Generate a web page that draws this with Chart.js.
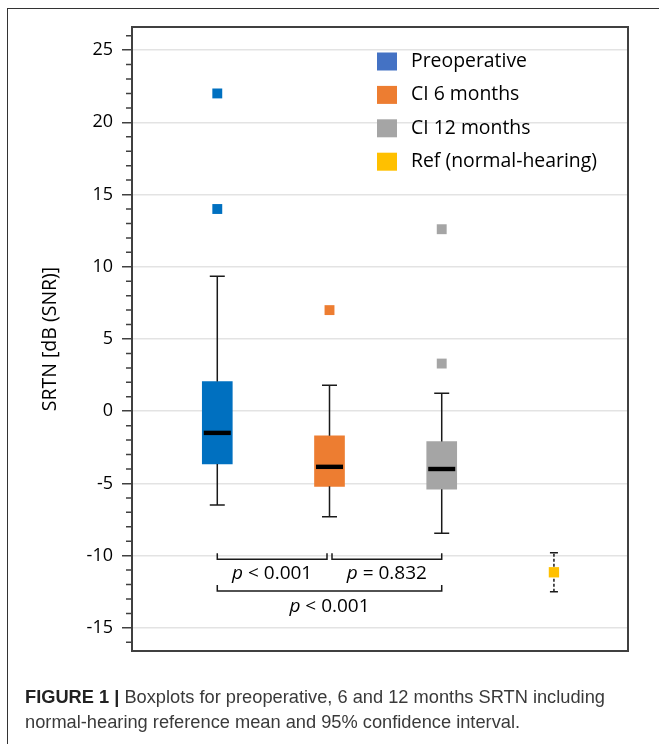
<!DOCTYPE html>
<html>
<head>
<meta charset="utf-8">
<script src="https://cdn.jsdelivr.net/npm/chart.js@4.4.1/dist/chart.umd.min.js"></script>
<style>
  html, body { margin: 0; padding: 0; background: #fff; }
  body { width: 659px; height: 744px; position: relative; overflow: hidden; }
  #frame { position: absolute; left: 7px; top: 8px; width: 700px; height: 800px;
           border-left: 1.5px solid #333; border-top: 1.5px solid #333; }
  #wrap { position: absolute; left: 0; top: 0; width: 659px; height: 744px; }
  #caption { position: absolute; left: 25px; top: 684px; width: 634px; white-space: nowrap;
             font-family: "Liberation Sans", Arial, sans-serif; font-size: 18.25px;
             line-height: 25px; color: #3a3a3a; }
  #caption b { color: #222; }
</style>
</head>
<body>
<div id="frame"></div>
<div id="wrap"><canvas id="boxChart"></canvas></div>
<div id="caption"><b>FIGURE 1 |</b> Boxplots for preoperative, 6 and 12 months SRTN including<br>normal-hearing reference mean and 95% confidence interval.</div>
<script>
// Chart data
const categories = ['Preoperative', 'CI 6 months', 'CI 12 months', 'Ref (normal-hearing)'];
const positions = [1, 2, 3, 4];
const whiskerLow = [-6.5, -7.3, -8.45];
const q1 = [-3.65, -5.2, -5.4];
const median = [-1.5, -3.85, -4.0];
const q3 = [2.05, -1.7, -2.1];
const whiskerHigh = [9.35, 1.8, 1.25];
const outliers = [[22, 14], [7.0], [12.6, 3.3]];
const refMean = [-11.15];
const refCI = [-12.5, -9.8];
const yTicks = [-15, -10, -5, 0, 5, 10, 15, 20, 25];
const pTests = [
  { from: 0, to: 1, op: '<', value: '0.001', level: 0 },
  { from: 1, to: 2, op: '=', value: '0.832', level: 0 },
  { from: 0, to: 2, op: '<', value: '0.001', level: 1 }
];

// Colours
const boxColors = ['#0070C0', '#ED7D31', '#A5A5A5', '#FFC000'];
const legendColors = ['#4472C4', '#ED7D31', '#A5A5A5', '#FFC000'];
const FONT = '"Open Sans", sans-serif';

// Whiskers, medians, ref CI, brackets, legend and frame
const boxExtras = {
  id: 'boxExtras',
  beforeDatasetsDraw(chart) {
    const { ctx, scales: { x, y } } = chart;
    ctx.save();
    ctx.strokeStyle = '#1a1a1a';
    ctx.lineWidth = 1.5;
    // reference 95% CI (dashed), under the mean marker
    const rx = x.getPixelForValue(positions[3]);
    ctx.beginPath();
    ctx.setLineDash([3, 2]);
    ctx.moveTo(rx, y.getPixelForValue(refCI[0]));
    ctx.lineTo(rx, y.getPixelForValue(refCI[1]));
    ctx.stroke();
    ctx.setLineDash([]);
    ctx.beginPath();
    refCI.forEach(c => {
      const py = y.getPixelForValue(c);
      ctx.moveTo(rx - 4, py);
      ctx.lineTo(rx + 4, py);
    });
    ctx.stroke();
    ctx.restore();
  },
  afterDatasetsDraw(chart) {
    const { ctx, chartArea: a, scales: { x, y } } = chart;
    ctx.save();
    ctx.strokeStyle = '#1a1a1a';
    ctx.lineWidth = 1.5;

    // whiskers + caps
    q1.forEach((v, i) => {
      const px = x.getPixelForValue(positions[i]);
      ctx.beginPath();
      ctx.moveTo(px, y.getPixelForValue(q3[i]));
      ctx.lineTo(px, y.getPixelForValue(whiskerHigh[i]));
      ctx.moveTo(px, y.getPixelForValue(v));
      ctx.lineTo(px, y.getPixelForValue(whiskerLow[i]));
      [whiskerHigh[i], whiskerLow[i]].forEach(w => {
        const py = y.getPixelForValue(w);
        ctx.moveTo(px - 7.5, py);
        ctx.lineTo(px + 7.5, py);
      });
      ctx.stroke();
    });

    // medians
    ctx.fillStyle = '#000';
    median.forEach((m, i) => {
      const px = x.getPixelForValue(positions[i]);
      ctx.fillRect(px - 13.5, y.getPixelForValue(m) - 2.2, 27, 4.4);
    });

    // minor ticks
    ctx.strokeStyle = '#404040';
    ctx.beginPath();
    for (let v = Math.ceil(y.min); v <= y.max; v++) {
      if (v % 5 === 0) continue;
      const py = y.getPixelForValue(v);
      ctx.moveTo(a.left - 6, py);
      ctx.lineTo(a.left, py);
    }
    ctx.stroke();

    // significance brackets
    const lineY = [-10.25, -12.45];
    const textY = [-11.25, -13.5];
    ctx.strokeStyle = '#1a1a1a';
    pTests.forEach(t => {
      const shared = end => pTests.some(o => o !== t && o.level === t.level &&
        (o.from === t[end] || o.to === t[end]));
      let x0 = x.getPixelForValue(positions[t.from]);
      let x1 = x.getPixelForValue(positions[t.to]);
      if (shared('from')) x0 += 2.5;
      if (shared('to')) x1 -= 2.5;
      const py = y.getPixelForValue(lineY[t.level]);
      ctx.beginPath();
      ctx.moveTo(x0, py - 6);
      ctx.lineTo(x0, py);
      ctx.lineTo(x1, py);
      ctx.lineTo(x1, py - 6);
      ctx.stroke();

      const italic = 'italic 19px ' + FONT;
      const normal = '19px ' + FONT;
      const rest = ' ' + t.op + ' ' + t.value;
      ctx.font = italic;
      const wp = ctx.measureText('p').width;
      ctx.font = normal;
      const wr = ctx.measureText(rest).width;
      const start = (x0 + x1) / 2 - (wp + wr) / 2;
      const ty = y.getPixelForValue(textY[t.level]);
      ctx.fillStyle = '#000';
      ctx.textBaseline = 'middle';
      ctx.textAlign = 'left';
      ctx.font = italic;
      ctx.fillText('p', start, ty);
      ctx.font = normal;
      ctx.fillText(rest, start + wp, ty);
    });

    // legend
    ctx.font = '19.4px ' + FONT;
    ctx.textBaseline = 'middle';
    categories.forEach((c, i) => {
      const cy = a.top + 34.5 + i * 33.4;
      ctx.fillStyle = legendColors[i];
      ctx.fillRect(a.left + 245, cy - 9, 20, 18);
      ctx.fillStyle = '#000';
      ctx.fillText(c, a.left + 279, cy);
    });

    // plot frame
    ctx.strokeStyle = '#404040';
    ctx.lineWidth = 2;
    ctx.strokeRect(a.left, a.top, a.width, a.height);
    ctx.restore();
  }
};

const outlierSets = outliers.map((arr, i) => ({
  type: 'scatter',
  data: arr.map(v => ({ x: positions[i], y: v })),
  backgroundColor: boxColors[i],
  borderWidth: 0,
  pointStyle: 'rect',
  pointRadius: 7,
  showLine: false
}));

new Chart(document.getElementById('boxChart'), {
  type: 'bar',
  data: {
    datasets: [
      {
        type: 'bar',
        data: q1.map((v, i) => ({ x: positions[i], y: [v, q3[i]] })),
        backgroundColor: boxColors.slice(0, 3),
        borderWidth: 0,
        barThickness: 30,
        grouped: false
      },
      ...outlierSets,
      {
        type: 'scatter',
        data: refMean.map(v => ({ x: positions[3], y: v })),
        backgroundColor: boxColors[3],
        borderWidth: 0,
        pointStyle: 'rect',
        pointRadius: 7.3,
        showLine: false
      }
    ]
  },
  options: {
    responsive: true,
    maintainAspectRatio: false,
    animation: false,
    layout: { padding: { left: 0, top: 27, right: 31, bottom: 93 } },
    plugins: { legend: { display: false }, tooltip: { enabled: false } },
    scales: {
      x: { type: 'linear', min: 0.24, max: 4.66, offset: false, display: false },
      y: {
        min: -16.6,
        max: 26.6,
        afterBuildTicks: s => { s.ticks = yTicks.map(v => ({ value: v })); },
        afterFit: s => { s.width = 132; },
        border: { display: false },
        grid: { color: '#e3e3e3', lineWidth: 1.5, tickLength: 10, tickColor: '#404040', tickWidth: 1.5 },
        ticks: { font: { family: FONT, size: 18 }, color: '#000', padding: 9 },
        title: {
          display: true,
          text: 'SRTN [dB (SNR)]',
          font: { family: FONT, size: 19.5 },
          color: '#000',
          padding: { top: 39, bottom: 0 }
        }
      }
    }
  },
  plugins: [boxExtras]
});
</script>
</body>
</html>
